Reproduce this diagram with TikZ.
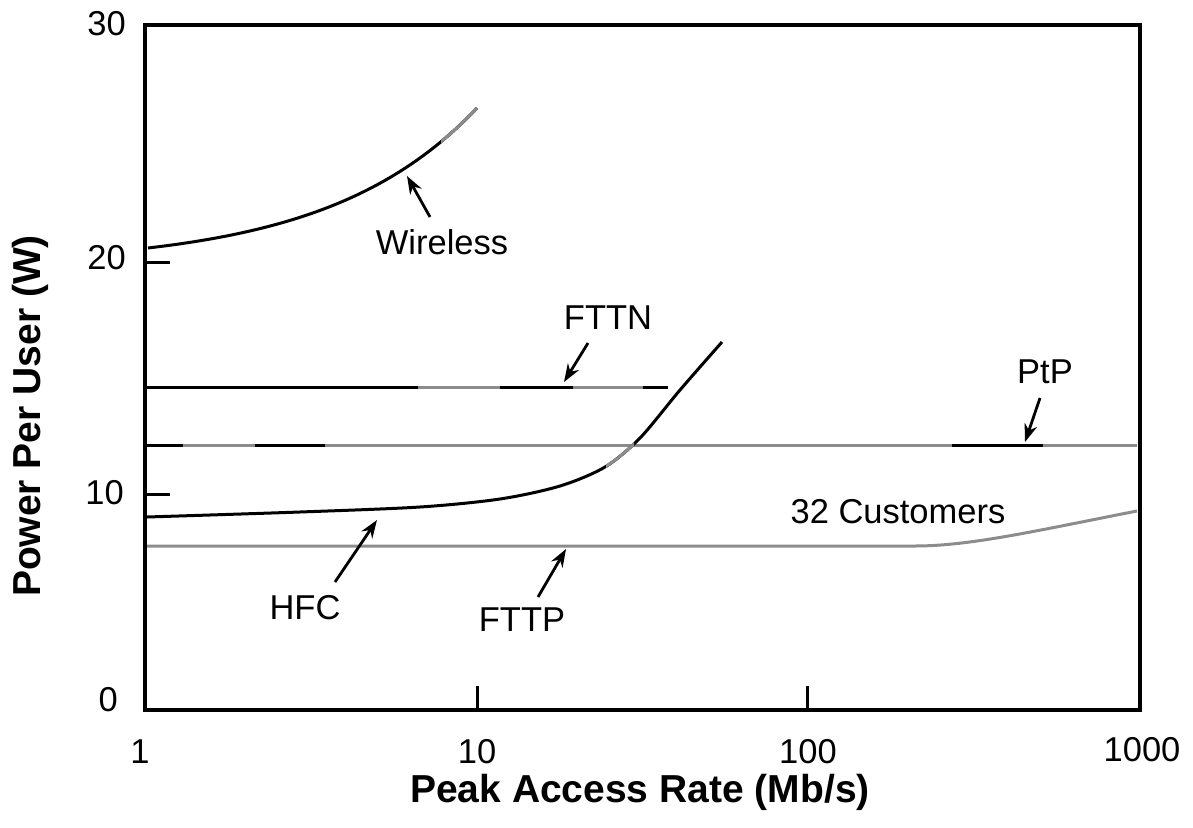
\documentclass[tikz,border=0pt]{standalone}
\usepackage{fontspec}
\setmainfont{Liberation Sans}
\usetikzlibrary{arrows.meta}
\definecolor{lgrey}{HTML}{8C8C8C}
\begin{document}
\begin{tikzpicture}[x=1pt,y=-1pt,
  curveblack/.style={line width=3pt, black},
  curvegrey/.style={line width=3pt, color=lgrey},
  lbl/.style={font=\fontsize{34.5}{40}\selectfont, inner sep=0pt},
  ttl/.style={font=\fontsize{39}{46}\selectfont\bfseries, inner sep=0pt},
  pointer/.style={line width=2.8pt, -{Stealth[length=18pt,width=13pt]}},
  axisline/.style={line width=4.5pt},
  tickline/.style={line width=3pt}]
\useasboundingbox (0,0) rectangle (1193,827);

% axes
\draw[axisline] (145,25) rectangle (1140,710);
\draw[tickline] (145,262) -- (170,262);
\draw[tickline] (145,494) -- (170,494);
\draw[tickline] (477,710) -- (477,686);
\draw[tickline] (807,710) -- (807,686);

% tick labels
\node[lbl, anchor=east] (y30) at (126,24) {30};
\node[lbl, anchor=east] (y20) at (126,258) {20};
\node[lbl, anchor=east] (y10) at (124,493) {10};
\node[lbl, anchor=east] (y0) at (118,700) {0};
\node[lbl] (x1) at (140,752) {1};
\node[lbl] (x10) at (477,752) {10};
\node[lbl] (x100) at (808,752) {100};
\node[lbl] (x1000) at (1142,750) {1000};

% axis titles
\node[ttl] (xt) at (640,792) {Peak Access Rate (Mb/s)};
\node[ttl, rotate=90] (yt) at (30,416) {Power Per User (W)};

% Wireless
\draw[curveblack] plot[domain=148:477, samples=80, smooth] (\x, {248-17.37*(exp(0.0067*(\x-148))-1)});
\begin{scope}
  \clip (441,0) rectangle (500,300);
  \draw[curvegrey] plot[domain=148:477, samples=80, smooth] (\x, {248-17.37*(exp(0.0067*(\x-148))-1)});
\end{scope}

% FTTN
\draw[curveblack] (147,387) -- (418,387);
\draw[curvegrey] (418,387) -- (500,387);
\draw[curveblack] (500,387) -- (573,387);
\draw[curvegrey] (573,387) -- (643,387);
\draw[curveblack] (643,387) -- (668,387);

% PtP
\draw[curvegrey] (147,445) -- (1137,445);
\draw[curveblack] (147,445) -- (183,445);
\draw[curveblack] (255,445) -- (325,445);
\draw[curveblack] (952,445) -- (1043,445);

% FTTP / 32 customers
\draw[curvegrey] (147,546) -- (915,546) .. controls (970,546) and (1035,531) .. (1137,511);

% HFC
\draw[curveblack] plot[smooth] coordinates {(147,517) (300,512) (420,507) (500,499) (560,486) (605,467) (640,438) (680,390) (722,342)};
\begin{scope}
  \clip (606,400) rectangle (634,500);
  \draw[curvegrey] plot[smooth] coordinates {(147,517) (300,512) (420,507) (500,499) (560,486) (605,467) (640,438) (680,390) (722,342)};
\end{scope}

% labels
\node[lbl] (wl) at (442,242) {Wireless};
\node[lbl] (fttn) at (608,318) {FTTN};
\node[lbl] (ptp) at (1045,372) {PtP};
\node[lbl] (hfc) at (305,608) {HFC};
\node[lbl] (fttp) at (522,620) {FTTP};
\node[lbl] (cust) at (898,512) {32 Customers};

% pointer coordinates
\coordinate (wlS) at (430,217);
\coordinate (wlT) at (407,176);
\coordinate (fttnS) at (588,343);
\coordinate (fttnT) at (564,382);
\coordinate (ptpS) at (1040,398);
\coordinate (ptpT) at (1025,442);
\coordinate (hfcS) at (335,582);
\coordinate (hfcT) at (377,520);
\coordinate (fttpS) at (538,597);
\coordinate (fttpT) at (566,549);

\draw[pointer] (wlS) -- (wlT);
\draw[pointer] (fttnS) -- (fttnT);
\draw[pointer] (ptpS) -- (ptpT);
\draw[pointer] (hfcS) -- (hfcT);
\draw[pointer] (fttpS) -- (fttpT);
\end{tikzpicture}
\end{document}
